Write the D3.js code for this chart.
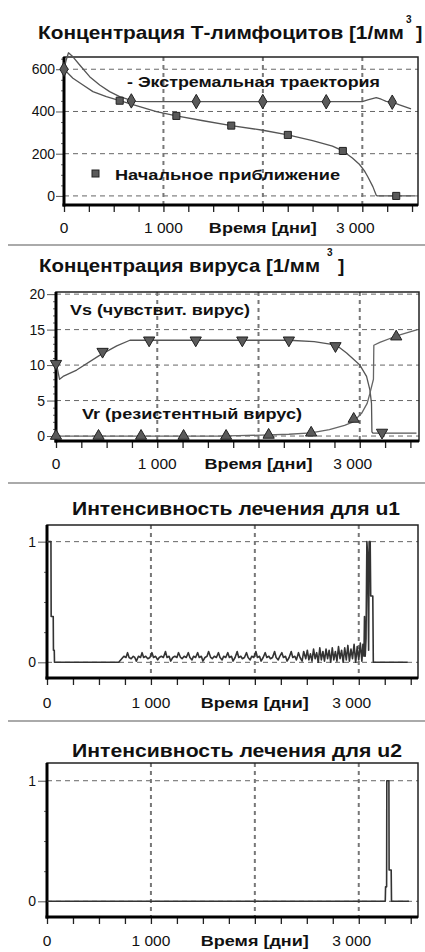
<!DOCTYPE html>
<html>
<head>
<meta charset="utf-8">
<script src="https://cdn.jsdelivr.net/npm/d3@7"></script>
<style>
  body { margin: 0; background: #fff; }
  svg { display: block; }
  text { font-family: "Liberation Sans", Arial, sans-serif; fill: #111; }
</style>
</head>
<body>
<div id="chart"></div>
<script>
// ---- data ----
const xMinorTicks = [0, 250, 500, 750, 1000, 1250, 1500, 1750, 2000, 2250, 2500, 2750, 3000, 3250, 3500];
const xGridDays = [1000, 2000, 3000];
const xLabelDays = [0, 1000, 2000, 3000];
const xLabels = ["0", "1 000", "Время [дни]", "3 000"];

// panel 1: T-lymphocytes
const tcellTicks = [0, 200, 400, 600];
const tcellMinor = [50, 100, 150, 250, 300, 350, 450, 500, 550, 650];
const tcellExtremal = [[0, 600], [20, 640], [45, 678], [90, 659], [158, 620], [258, 565], [359, 525], [459, 494],
  [560, 470], [660, 455], [720, 448], [850, 447], [3000, 447], [3055, 455], [3140, 466], [3190, 458],
  [3240, 448], [3301, 444], [3374, 431], [3490, 412]];
const tcellExtremalMarks = [[0, 600], [677, 450], [1330, 447], [1999, 447], [2637, 446], [3301, 444]];
const tcellInitial = [[0, 600], [90, 557], [191, 525], [291, 494], [426, 470], [560, 451], [761, 423], [929, 399],
  [1130, 379], [1400, 356], [1682, 333], [2000, 311], [2251, 289], [2500, 262], [2700, 236], [2804, 213],
  [2900, 180], [2970, 150], [3020, 120], [3055, 91], [3106, 44], [3140, 3], [3150, 0], [3530, 0]];
const tcellInitialMarks = [[560, 451], [1130, 379], [1682, 333], [2251, 289], [2804, 213], [3341, 0]];

// panel 2: virus
const virusTicks = [0, 5, 10, 15, 20];
const virusMinor = [1, 2, 3, 4, 6, 7, 8, 9, 11, 12, 13, 14, 16, 17, 18, 19];
const virusVs = [[0, 10.5], [35, 8.0], [70, 8.4], [204, 9.3], [434, 11.4], [600, 12.7], [730, 13.5],
  [2300, 13.5], [2550, 13.3], [2770, 12.8], [2870, 11.7], [3001, 10.0], [3067, 8.4], [3100, 6.5],
  [3116, 4.6], [3120, 0.6], [3130, 0.4], [3560, 0.4]];
const virusVsMarks = [[0, 10.2], [460, 11.9], [920, 13.5], [1380, 13.5], [1840, 13.5], [2300, 13.5], [2760, 12.7], [3220, 0.5]];
const virusVr = [[0, 0], [1600, 0], [1800, 0.05], [2100, 0.15], [2300, 0.25], [2520, 0.45], [2700, 0.9],
  [2850, 1.5], [2935, 2.0], [3018, 3.2], [3073, 4.6], [3100, 6.0], [3135, 8.0], [3139, 12.8],
  [3198, 13.2], [3363, 14.1], [3570, 15.0]];
const virusVrMarks = [[0, 0], [420, 0], [840, 0], [1260, 0], [1680, 0], [2100, 0.15], [2520, 0.45], [2940, 2.4], [3360, 14.0]];

// panel 3: treatment u1
const u1Points = [[0, 1], [38, 1], [40, 0.38], [60, 0.38], [62, 0.1], [70, 0.1], [72, 0], [690, 0], [740, 0.05],
  [760, 0.04], [775, 0.08], [790, 0.04], [810, 0.03], [830, 0.05], [845, 0.04], [860, 0.01], [880, 0.05], [900, 0.04],
  [915, 0.08], [930, 0.04], [950, 0.05], [970, 0.03], [990, 0.04], [1010, 0.08], [1025, 0.04], [1045, 0.05],
  [1065, 0.02], [1080, 0.04], [1100, 0.05], [1120, 0.04], [1140, 0.09], [1155, 0.04], [1175, 0.05], [1190, 0.01],
  [1210, 0.04], [1230, 0.05], [1250, 0.04], [1265, 0.08], [1285, 0.04], [1300, 0.03], [1320, 0.05], [1340, 0.04],
  [1360, 0.08], [1375, 0.04], [1395, 0.02], [1410, 0.05], [1430, 0.04], [1450, 0.08], [1465, 0.04], [1485, 0.05],
  [1500, 0.01], [1520, 0.04], [1540, 0.05], [1555, 0.09], [1575, 0.04], [1590, 0.03], [1610, 0.05], [1630, 0.04],
  [1650, 0.08], [1665, 0.04], [1685, 0.02], [1700, 0.05], [1720, 0.04], [1740, 0.08], [1755, 0.04], [1775, 0.05],
  [1790, 0.01], [1810, 0.04], [1830, 0.09], [1845, 0.04], [1865, 0.05], [1880, 0.03], [1900, 0.04], [1920, 0.08],
  [1935, 0.04], [1955, 0.02], [1970, 0.05], [1990, 0.04], [2010, 0.09], [2025, 0.04], [2045, 0.05], [2060, 0.01],
  [2080, 0.04], [2100, 0.08], [2115, 0.04], [2135, 0.05], [2150, 0.03], [2170, 0.04], [2190, 0.09], [2205, 0.04],
  [2225, 0.02], [2240, 0.05], [2260, 0.08], [2275, 0.04], [2295, 0.05], [2310, 0.01], [2330, 0.04], [2350, 0.09],
  [2365, 0.04], [2385, 0.05], [2400, 0.02], [2420, 0.08], [2435, 0.04], [2455, 0.01], [2470, 0.09], [2490, 0.03],
  [2505, 0.1], [2520, 0.02], [2535, 0.07], [2550, 0.01], [2565, 0.11], [2580, 0.03], [2595, 0.08], [2610, 0.0],
  [2625, 0.12], [2640, 0.02], [2655, 0.09], [2670, 0.01], [2685, 0.11], [2700, 0.03], [2715, 0.1], [2730, 0.0],
  [2745, 0.12], [2760, 0.02], [2775, 0.09], [2790, 0.01], [2805, 0.13], [2820, 0.03], [2835, 0.1], [2850, 0.0],
  [2865, 0.12], [2880, 0.02], [2895, 0.14], [2910, 0.01], [2925, 0.11], [2940, 0.03], [2955, 0.15], [2970, 0.0],
  [2985, 0.13], [3000, 0.02], [3015, 0.16], [3030, 0.01], [3040, 0.15], [3050, 0.05], [3055, 0.38], [3062, 0.05],
  [3070, 0.2], [3078, 1], [3085, 0.9], [3095, 0.1], [3100, 1], [3110, 1], [3115, 0.55], [3135, 0.55], [3140, 0],
  [3470, 0]];

// panel 4: treatment u2
const u2Points = [[0, 0], [3255, 0], [3258, 0.12], [3268, 0.12], [3270, 1], [3290, 1], [3292, 0.26], [3312, 0.26], [3315, 0], [3483, 0]];

const unitTicks = [0, 1];
const unitMinor = [0.25, 0.5, 0.75];

// ---- drawing ----
const W = 425, H = 952;
const svg = d3.select("#chart").append("svg").attr("width", W).attr("height", H);

// separators between panels
svg.selectAll(".sep").data([245, 483, 721]).join("line")
  .attr("x1", 8).attr("x2", W).attr("y1", d => d).attr("y2", d => d)
  .attr("stroke", "#aaa").attr("stroke-width", 2);

function drawPanel(p) {
  const g = svg.append("g");
  const x = d3.scaleLinear().domain([0, p.xMax]).range([p.left, p.right]);
  const y = d3.scaleLinear().domain(p.yDomain).range([p.bottom, p.top]);

  // grid
  g.selectAll(".hgrid").data(p.yTicks).join("line")
    .attr("x1", p.left).attr("x2", p.right)
    .attr("y1", d => y(d)).attr("y2", d => y(d))
    .attr("stroke", "#666").attr("stroke-dasharray", "5,4");
  g.selectAll(".vgrid").data(xGridDays).join("line")
    .attr("x1", d => x(d)).attr("x2", d => x(d))
    .attr("y1", p.top).attr("y2", p.bottom)
    .attr("stroke", "#777").attr("stroke-width", 2).attr("stroke-dasharray", "4,4");

  // y axis with labels
  const ya = g.append("g").attr("transform", `translate(${p.left},0)`)
    .call(d3.axisLeft(y).tickValues(p.yTicks).tickSize(p.tickLen).tickPadding(p.tickPad).tickFormat(d3.format("d")));
  ya.select(".domain").remove();
  ya.selectAll("line").attr("stroke", "#555");
  ya.selectAll("text").attr("font-size", 14).attr("fill", "#111")
    .style("font-family", "'Liberation Sans', Arial, sans-serif");

  const ym = g.append("g").attr("transform", `translate(${p.left},0)`)
    .call(d3.axisLeft(y).tickValues(p.yMinor).tickSize(3).tickFormat(""));
  ym.select(".domain").remove();
  ym.selectAll("line").attr("stroke", "#666");

  // x ticks below frame
  const xa = g.append("g").attr("transform", `translate(0,${p.bottom})`)
    .call(d3.axisBottom(x).tickValues(xMinorTicks).tickSize(7).tickFormat(""));
  xa.select(".domain").remove();
  xa.selectAll("line").attr("stroke", "#222").attr("stroke-width", 1.3);

  // frame
  g.append("rect").attr("x", p.left).attr("y", p.top)
    .attr("width", p.right - p.left).attr("height", p.bottom - p.top)
    .attr("fill", "none").attr("stroke", "#222").attr("stroke-width", 1.5);
  g.append("line").attr("x1", p.left).attr("x2", p.left).attr("y1", p.top).attr("y2", p.bottom + 1.5)
    .attr("stroke", "#000").attr("stroke-width", 3);
  g.append("line").attr("x1", p.left - 1.5).attr("x2", p.right).attr("y1", p.bottom).attr("y2", p.bottom)
    .attr("stroke", "#000").attr("stroke-width", 3);

  // x labels
  g.selectAll(".xl").data(xLabelDays).join("text")
    .attr("x", (d, i) => x(d) + (i === 3 ? -7 : 0))
    .attr("y", p.labelY)
    .attr("text-anchor", "middle")
    .attr("font-size", 15.5)
    .attr("font-weight", (d, i) => i === 2 ? "bold" : "normal")
    .each(function (d, i) {
      if (i === 2) d3.select(this).attr("textLength", 108).attr("lengthAdjust", "spacingAndGlyphs");
    })
    .text((d, i) => xLabels[i]);

  // series
  const line = d3.line().x(d => x(d[0])).y(d => y(d[1]));
  p.series.forEach(s => {
    g.append("path").datum(s.points).attr("d", line)
      .attr("fill", "none").attr("stroke", s.color).attr("stroke-width", s.width)
      .attr("stroke-linejoin", "round");
  });
  (p.marks || []).forEach(m => {
    g.selectAll(null).data(m.points).join("path")
      .attr("d", d3.symbol().type(m.type).size(m.size))
      .attr("transform", d => `translate(${x(d[0])},${y(d[1])}) rotate(${m.rotate || 0})`)
      .attr("fill", "#5a5a5a").attr("stroke", "#222").attr("stroke-width", 1);
  });

  // title
  const t = p.title;
  g.append("text").attr("x", t.x0).attr("y", t.y).attr("font-size", 19).attr("font-weight", "bold")
    .attr("textLength", t.x1 - t.x0).attr("lengthAdjust", "spacingAndGlyphs").text(t.text);
  if (t.sup) {
    g.append("text").attr("x", t.supX).attr("y", t.y - 16).attr("font-size", 10).attr("font-weight", "bold").text("3");
    g.append("text").attr("x", t.bracketX).attr("y", t.y).attr("font-size", 19).attr("font-weight", "bold").text("]");
  }
  return { g, x, y };
}

// panel 1
const p1 = drawPanel({
  left: 64, right: 418, top: 57, bottom: 205, xMax: 3560, yDomain: [-43, 658],
  yTicks: tcellTicks, yMinor: tcellMinor, tickLen: 8, tickPad: 1, labelY: 233,
  title: { text: "Концентрация Т-лимфоцитов [1/мм", x0: 38, x1: 404, y: 39, sup: true, supX: 406, bracketX: 416 },
  series: [
    { points: tcellExtremal, color: "#555", width: 1.3 },
    { points: tcellInitial, color: "#555", width: 1.3 }
  ],
  marks: [
    { points: tcellExtremalMarks, type: d3.symbolDiamond, size: 60 },
    { points: tcellInitialMarks, type: d3.symbolSquare, size: 50 }
  ]
});
p1.g.append("text").attr("x", 127).attr("y", 87).attr("font-size", 14).attr("font-weight", "bold")
  .attr("textLength", 253).attr("lengthAdjust", "spacingAndGlyphs").text("- Экстремальная траектория");
p1.g.append("rect").attr("x", 92).attr("y", 170).attr("width", 7).attr("height", 7)
  .attr("fill", "#5a5a5a").attr("stroke", "#222");
p1.g.append("text").attr("x", 115).attr("y", 180).attr("font-size", 14).attr("font-weight", "bold")
  .attr("textLength", 225).attr("lengthAdjust", "spacingAndGlyphs").text("Начальное приближение");

// panel 2
const p2 = drawPanel({
  left: 56, right: 419, top: 292, bottom: 441, xMax: 3585, yDomain: [-0.7, 20.3],
  yTicks: virusTicks, yMinor: virusMinor, tickLen: 9, tickPad: 2, labelY: 469,
  title: { text: "Концентрация вируса [1/мм", x0: 39, x1: 320, y: 272, sup: true, supX: 327, bracketX: 338 },
  series: [
    { points: virusVs, color: "#555", width: 1.3 },
    { points: virusVr, color: "#666", width: 1.3 }
  ],
  marks: [
    { points: virusVsMarks, type: d3.symbolTriangle, size: 55, rotate: 180 },
    { points: virusVrMarks, type: d3.symbolTriangle, size: 55 }
  ]
});
p2.g.append("text").attr("x", 70).attr("y", 315).attr("font-size", 15).attr("font-weight", "bold")
  .attr("textLength", 180).attr("lengthAdjust", "spacingAndGlyphs").text("Vs (чувствит. вирус)");
p2.g.append("text").attr("x", 82).attr("y", 419).attr("font-size", 15).attr("font-weight", "bold")
  .attr("textLength", 220).attr("lengthAdjust", "spacingAndGlyphs").text("Vr (резистентный вирус)");

// panel 3
drawPanel({
  left: 47, right: 418, top: 525, bottom: 678, xMax: 3570, yDomain: [-0.13, 1.138],
  yTicks: unitTicks, yMinor: unitMinor, tickLen: 9, tickPad: 2, labelY: 708,
  title: { text: "Интенсивность лечения для u1", x0: 72, x1: 400, y: 515 },
  series: [{ points: u1Points, color: "#333", width: 1.6 }]
});

// panel 4
drawPanel({
  left: 47, right: 418, top: 763, bottom: 917, xMax: 3570, yDomain: [-0.13, 1.147],
  yTicks: unitTicks, yMinor: unitMinor, tickLen: 9, tickPad: 2, labelY: 946,
  title: { text: "Интенсивность лечения для u2", x0: 72, x1: 402, y: 757 },
  series: [{ points: u2Points, color: "#333", width: 1.6 }]
});
</script>
</body>
</html>
